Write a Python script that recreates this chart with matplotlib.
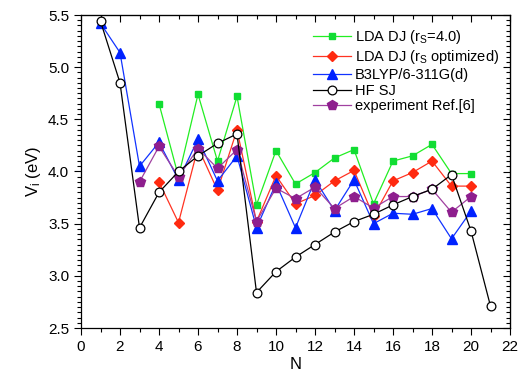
import matplotlib
matplotlib.use("Agg")
import matplotlib.pyplot as plt
from matplotlib.ticker import MultipleLocator

plt.rcParams['font.family'] = ['Liberation Sans', 'DejaVu Sans']
plt.rcParams['mathtext.fontset'] = 'custom'
plt.rcParams['mathtext.rm'] = 'Liberation Sans'
plt.rcParams['mathtext.it'] = 'Liberation Sans:italic'

N_lda = list(range(4, 21))
lda_rs4 = [4.65, 3.95, 4.74, 4.10, 4.72, 3.68, 4.20, 3.88, 3.99, 4.13, 4.21, 3.69, 4.10, 4.15, 4.26, 3.98, 3.98]
lda_opt = [3.90, 3.51, 4.23, 3.82, 4.40, 3.52, 3.96, 3.69, 3.77, 3.91, 4.01, 3.57, 3.91, 3.99, 4.10, 3.86, 3.86]

N_b3 = list(range(1, 21))
b3lyp = [5.42, 5.14, 4.05, 4.28, 3.92, 4.31, 3.91, 4.15, 3.46, 3.885, 3.46, 3.92, 3.625, 3.92, 3.50, 3.60, 3.59, 3.645, 3.355, 3.62]

N_hf = list(range(1, 22))
hf_sj = [5.44, 4.85, 3.46, 3.80, 4.00, 4.15, 4.27, 4.36, 2.84, 3.04, 3.18, 3.30, 3.42, 3.52, 3.59, 3.68, 3.76, 3.83, 3.97, 3.43, 2.71]

N_exp = list(range(3, 21))
experiment = [3.90, 4.24, 3.95, 4.22, 4.03, 4.21, 3.52, 3.84, 3.74, 3.85, 3.645, 3.76, 3.65, 3.76, 3.76, 3.83, 3.61, 3.76]

labels = [r'LDA DJ (r$_\mathrm{S}$=4.0)', r'LDA DJ (r$_\mathrm{S}$ optimized)',
          'B3LYP/6-311G(d)', 'HF SJ', 'experiment Ref.[6]']

fig = plt.figure(figsize=(5.27, 3.76), dpi=100)
ax = fig.add_axes([81/527, 48/376, 429/527, 313/376])

lw = 0.9
ax.plot(N_lda, lda_rs4, color='#22ee22', lw=lw, marker='s', ms=5, mfc='#11dd33', mec='#11dd33', label=labels[0], zorder=3)
ax.plot(N_lda, lda_opt, color='#ff3322', lw=lw, marker='D', ms=5.5, mfc='#ff2a10', mec='#ff2a10', label=labels[1], zorder=3)
ax.plot(N_b3, b3lyp, color='#1133ff', lw=lw, marker='^', ms=6.5, mfc='#0022ff', mec='#0022ff', label=labels[2], zorder=3)
ax.plot(N_hf, hf_sj, color='black', lw=lw, marker='o', ms=6.3, mfc='white', mec='black', mew=0.9, label=labels[3], zorder=4)
ax.plot(N_exp, experiment, color='#a040a0', lw=lw, marker='p', ms=7, mfc='#8e1e8e', mec='#8e1e8e', label=labels[4], zorder=3)

ax.set_xlim(0, 22)
ax.set_ylim(2.5, 5.5)
ax.xaxis.set_major_locator(MultipleLocator(2))
ax.xaxis.set_minor_locator(MultipleLocator(1))
ax.yaxis.set_major_locator(MultipleLocator(0.5))
ax.yaxis.set_minor_locator(MultipleLocator(0.05))
ax.yaxis.set_major_formatter(matplotlib.ticker.FormatStrFormatter('%.1f'))
ax.tick_params(which='both', direction='out', labelsize=11, width=0.8)
ax.tick_params(which='major', length=5)
ax.tick_params(which='minor', length=3)
for s in ax.spines.values():
    s.set_linewidth(0.9)

secx = ax.secondary_xaxis('top')
secx.xaxis.set_major_locator(MultipleLocator(2))
secx.xaxis.set_minor_locator(MultipleLocator(1))
secx.tick_params(which='both', direction='in', labeltop=False, width=0.8)
secx.tick_params(which='major', length=5)
secx.tick_params(which='minor', length=3)
secy = ax.secondary_yaxis('right')
secy.yaxis.set_major_locator(MultipleLocator(0.5))
secy.yaxis.set_minor_locator(MultipleLocator(0.05))
secy.tick_params(which='both', direction='in', labelright=False, width=0.8)
secy.tick_params(which='major', length=5)
secy.tick_params(which='minor', length=3)

ax.set_xlabel('N', fontsize=12, labelpad=2)
ax.set_ylabel(r'V$_\mathrm{i}$ (eV)', fontsize=12, labelpad=4)

leg = ax.legend(loc='upper right', bbox_to_anchor=(0.995, 0.985), frameon=False, fontsize=10.5,
                handlelength=2.6, handletextpad=0.3, labelspacing=0.12, borderaxespad=0.2)

fig.savefig('out.png', dpi=100)
